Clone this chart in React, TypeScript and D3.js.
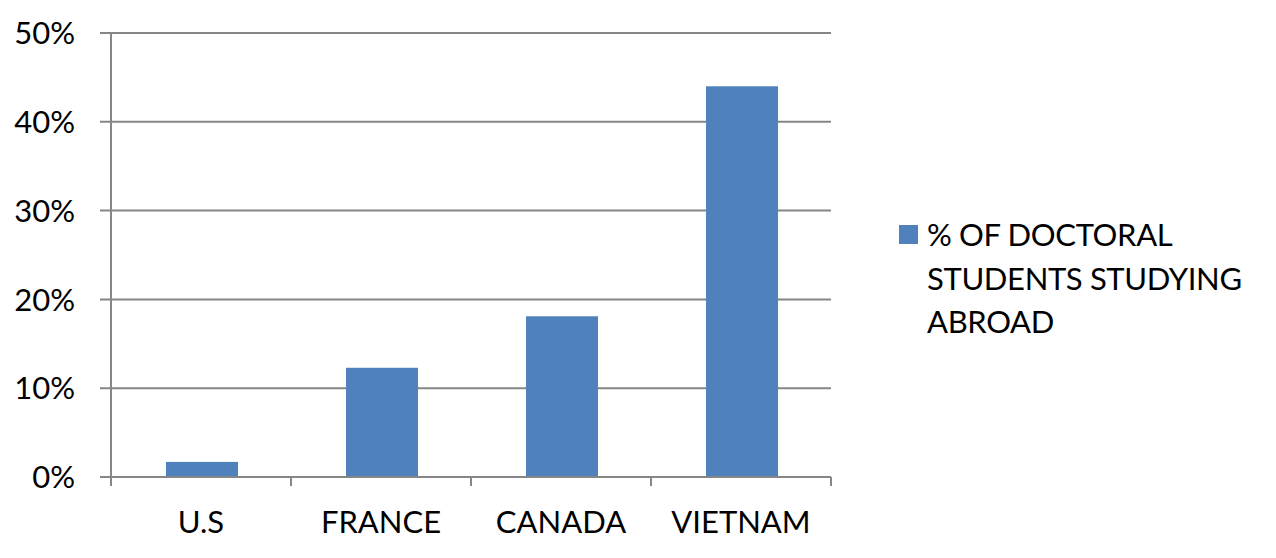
import React from "react";
import * as d3 from "d3";

const categories = ["U.S", "FRANCE", "CANADA", "VIETNAM"];
const values = [0.017, 0.123, 0.181, 0.44];
const yTicks = [0, 0.1, 0.2, 0.3, 0.4, 0.5];
const legendLines = ["% OF DOCTORAL", "STUDENTS STUDYING", "ABROAD"];

const W = 1276;
const H = 558;
const left = 111;
const right = 831;
const top = 33;
const bottom = 477;
const font = "Lato, 'Open Sans', sans-serif";
const grid = "#868686";
const barColor = "#4F81BD";

export default function App() {
  const x = d3.scaleBand<string>().domain(categories).range([left + 1, right + 1]).paddingInner(0.6).paddingOuter(0.3);
  const band = d3.scaleBand<string>().domain(categories).range([left, right]);
  const y = d3.scaleLinear().domain([0, 0.5]).range([bottom, top]);
  const fmt = d3.format(".0%");
  return (
    <svg width={W} height={H} style={{ position: "absolute", left: 0, top: 0 }} fontFamily={font}>
      <rect width={W} height={H} fill="#fff" />
      {yTicks.map((t) => (
        <g key={t}>
          <line x1={left - 11} x2={right} y1={y(t)} y2={y(t)} stroke={grid} strokeWidth={2} />
          <text x={75} y={y(t)} dy="0.36em" textAnchor="end" fontSize={31} fill="#000">
            {fmt(t)}
          </text>
        </g>
      ))}
      <line x1={left} x2={left} y1={top} y2={bottom + 9} stroke={grid} strokeWidth={2} />
      {categories.map((c) => (
        <line key={c} x1={(band(c) as number) + band.bandwidth()} x2={(band(c) as number) + band.bandwidth()} y1={bottom} y2={bottom + 9} stroke={grid} strokeWidth={2} />
      ))}
      {categories.map((c, i) => (
        <rect key={c} x={x(c)} width={x.bandwidth()} y={y(values[i])} height={bottom - y(values[i])} fill={barColor} />
      ))}
      <line x1={left} x2={right} y1={bottom} y2={bottom} stroke={grid} strokeWidth={2} />
      {categories.map((c) => (
        <text key={c} x={(band(c) as number) + band.bandwidth() / 2} y={533} textAnchor="middle" fontSize={31} fill="#000">
          {c}
        </text>
      ))}
      <rect x={899} y={225} width={19} height={19} fill={barColor} />
      {legendLines.map((l, i) => (
        <text key={l} x={927} y={246 + i * 43.5} fontSize={31} letterSpacing={-0.35} fill="#000">
          {l}
        </text>
      ))}
    </svg>
  );
}
